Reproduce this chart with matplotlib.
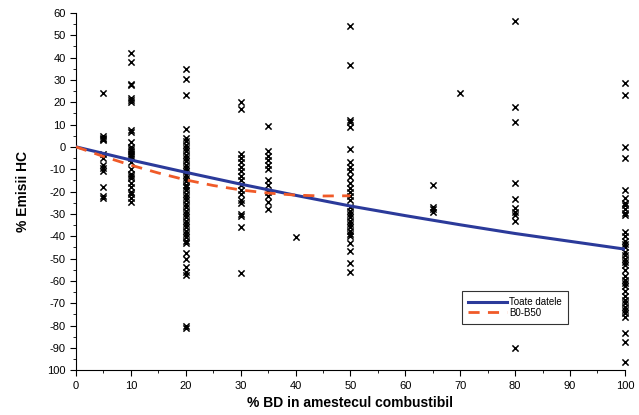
import numpy as np
import matplotlib
matplotlib.use("Agg")
import matplotlib.pyplot as plt

plt.rcParams['font.family'] = ['Liberation Sans', 'DejaVu Sans']

# Date masurate: % biodiesel in amestec si variatia emisiilor HC (%)
x_05 = [24, 5, 4, 3.5, 3, -3, -5, -8, -9.5, -11, -18, -22, -23]
x_10 = [42, 38, 28, 27.5, 22, 21, 20, 7.5, 6.5, 2, 0, -1, -2, -3, -4, -5,
        -7, -10, -12, -13, -14, -16, -18, -20, -21, -23, -24.5]
x_20 = [35, 30.5, 23, 8, 4, 2.5, 1, -0.5, -2, -3.5, -5, -6.5, -8, -9.5, -11,
        -12.5, -14, -15.5, -17, -18, -19.5, -21, -22.5, -24, -25.5, -27,
        -28.5, -30, -31.5, -33, -34.5, -36, -37.5, -39, -40.5, -42, -43,
        -47.5, -50, -54, -56, -57.5, -80, -81]
x_30 = [20, 17, -3, -5, -7, -9, -11, -13, -15, -17, -19.5, -21, -24, -25,
        -30, -31, -36, -56.5]
x_35 = [9.5, -2, -4, -6, -8, -10, -15, -17, -20, -22, -24.5, -28]
x_40 = [-40.5]
x_50 = [54, 36.5, 12, 11, 9, -1, -7, -9, -11, -13.5, -16, -18.5, -20, -22,
        -24, -27, -28.5, -30, -31.5, -33, -34.5, -36, -37.5, -39, -40,
        -43, -46.5, -52, -56]
x_65 = [-17, -27, -28, -29]
x_70 = [24]
x_80 = [56.5, 18, 11, -16, -23.5, -27.5, -29, -30.5, -33, -90]
x_100 = [28.5, 23, 0, -5, -19.5, -23, -25, -26, -28, -29.5, -30.5, -38, -40,
         -42, -43.5, -45, -47, -48.5, -50, -51.5, -53, -55, -58, -59.5, -61,
         -62.5, -64.5, -67, -68.5, -70, -71.5, -73, -74.5, -76, -83.5, -87.5,
         -96.5]

groups = {5: x_05, 10: x_10, 20: x_20, 30: x_30, 35: x_35, 40: x_40,
          50: x_50, 65: x_65, 70: x_70, 80: x_80, 100: x_100}

# Curbe de tendinta
fit_all_x = [0, 10, 20, 30, 40, 50, 60, 70, 80, 90, 100]
fit_all_y = [0, -5.9, -11.4, -16.7, -21.7, -26.5, -30.8, -34.9, -38.8, -42.3, -45.8]
fit_b50_x = [0, 5, 10, 15, 20, 25, 30, 35, 40, 45, 50]
fit_b50_y = [0, -4.3, -8.2, -11.7, -14.8, -17.3, -19.3, -20.7, -21.6, -22, -21.9]

fig = plt.figure(figsize=(6.39, 4.15), dpi=100)
ax = fig.add_axes([0.119, 0.108, 0.859, 0.861])

for bd, vals in groups.items():
    ax.scatter([bd] * len(vals), vals, marker='x', color='black', s=20,
               linewidths=1.1, zorder=2, clip_on=False)

ax.plot(fit_all_x, fit_all_y, color='#2b3a9a', lw=2.2, label='Toate datele', zorder=3)
ax.plot(fit_b50_x, fit_b50_y, color='#f05a28', lw=2, ls=(0, (4, 3)), label='B0-B50', zorder=3)

ax.set_xlim(0, 100)
ax.set_ylim(-100, 60)
ax.set_xticks(np.arange(0, 101, 10))
ax.set_xticks(np.arange(0, 101, 5), minor=True)
yt = np.arange(-100, 61, 10)
ax.set_yticks(yt)
ax.set_yticklabels(['100' if v == -100 else str(v) for v in yt])
ax.set_yticks(np.arange(-100, 61, 5), minor=True)
ax.tick_params(axis='both', which='major', labelsize=8, direction='out', length=4)
ax.tick_params(axis='both', which='minor', direction='out', length=2.5)
ax.spines['top'].set_visible(False)
ax.spines['right'].set_visible(False)

ax.set_xlabel('% BD in amestecul combustibil', fontsize=10, fontweight='bold', labelpad=4)
ax.set_ylabel('% Emisii HC', fontsize=10, fontweight='bold', labelpad=12)

leg = ax.legend(loc='upper left', bbox_to_anchor=(0.695, 0.235), fontsize=7,
                frameon=True, fancybox=False, edgecolor='black',
                handlelength=4, handletextpad=0.2, borderpad=0.6, labelspacing=0.1)
leg.get_frame().set_linewidth(0.8)

fig.savefig('out.png', dpi=100)
